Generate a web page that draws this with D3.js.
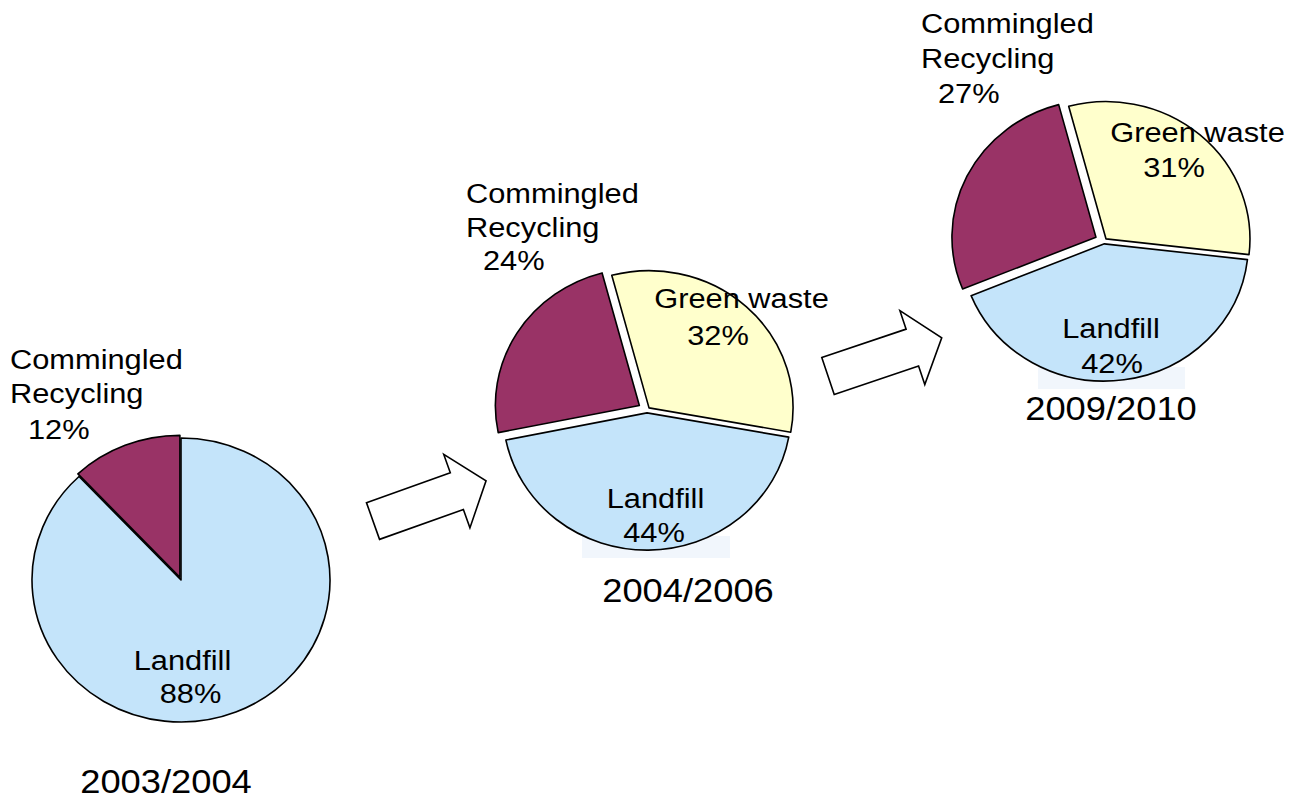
<!DOCTYPE html>
<html>
<head>
<meta charset="utf-8">
<script src="https://cdn.jsdelivr.net/npm/d3@7"></script>
<style>
  body { margin: 0; background: #fff; }
  svg { display: block; }
  text { font-family: "Liberation Sans", Arial, sans-serif; fill: #000; }
</style>
</head>
<body>
<div id="chart"></div>
<script>
// values
const years = ['2003/2004', '2004/2006', '2009/2010'];
const categories = ['Green waste', 'Landfill', 'Commingled Recycling'];
const greenWaste = [0, 32, 31];
const landfill = [88, 44, 42];
const commingled = [12, 24, 27];

const width = 1301;
const height = 799;

const colors = {'Green waste': '#FFFFCC', 'Landfill': '#C4E4FA', 'Commingled Recycling': '#993366'};

// where each pie sits, and where its labels go (offsets from the pie centre)
const layout = [
  {cx: 181, cy: 580, r: 149, start: 0, explode: [0, 0, 3], year: [-15, 213], shade: null,
   labels: {'Landfill': [[1.5, 90], [9.5, 123]],
            'Commingled Recycling': [[-171, -211], [-171, -177], [-153, -141]]}},
  {cx: 647, cy: 410, r: 144, start: -15, explode: [3, 3, 9], year: [41, 192], shade: [-65, 126, 148, 22],
   labels: {'Green waste': [[94.5, -102], [71, -65]],
            'Landfill': [[8.5, 98], [7, 132]],
            'Commingled Recycling': [[-181, -207], [-181, -173], [-164, -140]]}},
  {cx: 1104, cy: 241, r: 144, start: -15, explode: [3, 3, 9], year: [7, 179], shade: [-66, 126, 147, 22],
   labels: {'Green waste': [[93.5, -99], [70, -64]],
            'Landfill': [[7, 97], [8, 132]],
            'Commingled Recycling': [[-183, -208], [-183, -173], [-166, -138]]}}
];
const squash = 0.953;
const stretch = 1.1; // text in the picture is a bit wide

// the block arrows between the pies: tail centre and angle
const arrows = [{x: 373, y: 521, angle: -19.6}, {x: 828, y: 376, angle: -18.6}];

const svg = d3.select('#chart')
  .append('svg')
  .attr('width', width)
  .attr('height', height)
  .attr('viewBox', [0, 0, width, height]);

function label(x, y, t, size, anchor) {
  svg.append('text')
    .attr('transform', `translate(${x},${y}) scale(${stretch},1)`)
    .attr('text-anchor', anchor)
    .attr('font-size', size)
    .text(t);
}

const pie = d3.pie().sort(null).value(d => d.value);

years.forEach((year, i) => {
  const L = layout[i];
  const rows = categories.map((c, k) => ({
    name: c,
    value: [greenWaste, landfill, commingled][k][i],
    explode: L.explode[k]
  }));

  // faint box behind the percentage
  if (L.shade) {
    svg.append('rect')
      .attr('x', L.cx + L.shade[0]).attr('y', L.cy + L.shade[1])
      .attr('width', L.shade[2]).attr('height', L.shade[3])
      .attr('fill', '#F1F6FC');
  }

  const arc = d3.arc().innerRadius(0).outerRadius(L.r);
  const a0 = L.start * Math.PI / 180;
  pie.startAngle(a0).endAngle(a0 + 2 * Math.PI);

  const g = svg.append('g')
    .attr('transform', `translate(${L.cx},${L.cy}) scale(1,${squash})`);

  g.selectAll('path')
    .data(pie(rows).filter(d => d.data.value > 0))
    .join('path')
    .attr('d', arc)
    .attr('transform', d => {
      const m = (d.startAngle + d.endAngle) / 2;
      return `translate(${Math.sin(m) * d.data.explode},${-Math.cos(m) * d.data.explode})`;
    })
    .attr('fill', d => colors[d.data.name])
    .attr('stroke', '#000')
    .attr('stroke-width', 1.6)
    .attr('stroke-linejoin', 'round')
    .attr('vector-effect', 'non-scaling-stroke');

  // slice labels
  rows.filter(r => r.value > 0).forEach(r => {
    const pos = L.labels[r.name];
    const lines = r.name === 'Commingled Recycling'
      ? ['Commingled', 'Recycling', r.value + '%']
      : [r.name, r.value + '%'];
    const anchor = r.name === 'Commingled Recycling' ? 'start' : 'middle';
    lines.forEach((t, j) => label(L.cx + pos[j][0], L.cy + pos[j][1], t, '28px', anchor));
  });

  label(L.cx + L.year[0], L.cy + L.year[1], year, '33px', 'middle');
});

// arrow outline in its own frame, tail at 0, pointing along +x
const arrowShape = [[0, -19.5], [89, -19.5], [89, -39], [120, 0], [89, 39], [89, 19.5], [0, 19.5]];
arrows.forEach(a => {
  svg.append('path')
    .attr('d', d3.line()(arrowShape) + 'Z')
    .attr('transform', `translate(${a.x},${a.y}) rotate(${a.angle})`)
    .attr('fill', '#fff')
    .attr('stroke', '#000')
    .attr('stroke-width', 1.6)
    .attr('stroke-linejoin', 'miter');
});
</script>
</body>
</html>
